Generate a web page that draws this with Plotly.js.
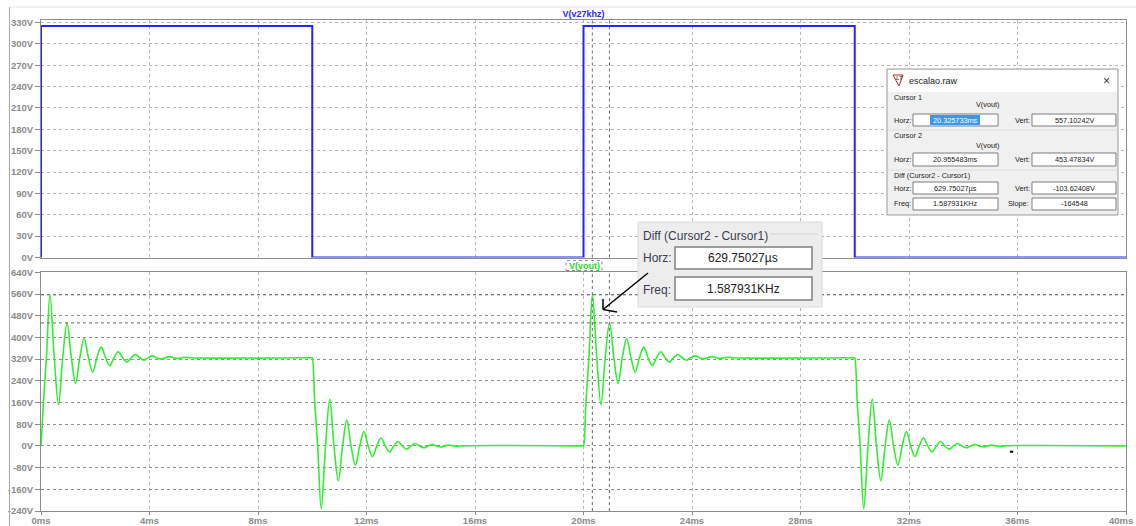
<!DOCTYPE html>
<html>
<head>
<meta charset="utf-8">
<script src="https://cdn.plot.ly/plotly-3.0.1.min.js"></script>
<style>
  html, body { margin: 0; padding: 0; background: #ffffff; }
  #chart { width: 1136px; height: 526px; }
</style>
</head>
<body>
<div id="chart"></div>
<script>
// ---------------- DATA ----------------
// Top pane: V(v27khz) square wave (ms, V)
const sqTimes = [0, 0, 10, 10, 20, 20, 30, 30, 40];
const sqVolts = [0, 325, 325, 0, 0, 325, 325, 0, 0];

// Bottom pane: V(vout) step responses at each edge
const edgeTimes = [0, 10, 20, 30];          // ms
const edgeFrom  = [0, 325, 0, 325];         // V before edge
const edgeTo    = [325, 0, 325, 0];         // V settled after edge
// ringing read from the first rising edge: time after edge (ms), deviation from settled value (V)
const ringOffset = [0, 0.09, 0.2, 0.33, 0.49, 0.645, 0.80, 0.96, 1.12, 1.275, 1.43, 1.59, 1.75, 1.905, 2.06, 2.22, 2.38, 2.535, 2.69, 2.85, 3.01, 3.165, 3.32, 3.48, 3.64, 3.795, 3.95, 4.11, 4.27, 4.425, 4.58, 4.74, 4.9, 5.05, 5.2, 5.37, 5.5];
const ringDev    = [-325, -165, 0, 232, 0, -173, 0, 128, 0, -95, 0, 71, 0, -53, 0, 39, 0, -29, 0, 22, 0, -16, 0, 12, 0, -9, 0, 7, 0, -5, 0, 4, 0, -3, 0, 2, 0];

// Cursors
const cursorTimes = [20.325733, 20.955483];  // ms
const cursorVolts = [557.10242, 453.47834];  // V

// Axis ticks
const topTicks = [0, 30, 60, 90, 120, 150, 180, 210, 240, 270, 300, 330];
const botTicks = [-240, -160, -80, 0, 80, 160, 240, 320, 400, 480, 560, 640];
const xTicks   = [0, 4, 8, 12, 16, 20, 24, 28, 32, 36, 40];

// Cursor readout texts
const dlgTitle = 'escalao.raw';
const c1Horz = '20.325733ms', c1Vert = '557.10242V';
const c2Horz = '20.955483ms', c2Vert = '453.47834V';
const dHorz = '629.75027µs', dVert = '-103.62408V', dFreq = '1.587931KHz', dSlope = '-164548';

// ---------------- BUILD ----------------
const voutT = [], voutV = [];
for (let i = 0; i < edgeTimes.length; i++) {
  const t0 = edgeTimes[i];
  const dir = edgeTo[i] > edgeFrom[i] ? 1 : -1;
  if (i > 0) { voutT.push(t0 - 0.02); voutV.push(edgeFrom[i]); }
  for (let k = 0; k < ringOffset.length; k++) {
    voutT.push(t0 + ringOffset[k]);
    voutV.push(edgeTo[i] + dir * ringDev[k]);
  }
}
voutT.push(40); voutV.push(edgeTo[edgeTo.length - 1]);

// pixel -> paper helpers (plot area 41..1126 x 20..511)
const L = 41, R = 1126, T = 20, B = 511;
const px = x => (x - L) / (R - L);
const py = y => (B - y) / (B - T);

const shapes = [];
const annotations = [];
function rect(x0, y0, x1, y1, fill, line, lw, dash) {
  shapes.push({type: 'rect', xref: 'paper', yref: 'paper', x0: px(x0), x1: px(x1), y0: py(y1), y1: py(y0),
    fillcolor: fill, line: {color: line || 'rgba(0,0,0,0)', width: lw === undefined ? 1 : lw, dash: dash || 'solid'}, layer: 'above'});
}
function seg(x0, y0, x1, y1, color, w, dash) {
  shapes.push({type: 'line', xref: 'paper', yref: 'paper', x0: px(x0), x1: px(x1), y0: py(y0), y1: py(y1),
    line: {color: color, width: w, dash: dash || 'solid'}, layer: 'above'});
}
function txt(x, y, text, size, anchor, color, extra) {
  annotations.push(Object.assign({xref: 'paper', yref: 'paper', x: px(x), y: py(y), text: text, showarrow: false,
    xanchor: anchor || 'left', yanchor: 'middle',
    font: {family: 'Liberation Sans, Arial, sans-serif', size: size, color: color || '#1a1a1a'}}, extra || {}));
}

const tickFont = {family: 'Liberation Sans, Arial, sans-serif', size: 9.5, color: '#8a8a8a', weight: 'bold'};
const frame = '#8c8c8c';

// cursor lines
cursorTimes.forEach(t => {
  shapes.push({type: 'line', xref: 'x2', yref: 'y domain', x0: t, x1: t, y0: 0, y1: 1, line: {color: '#6a6a6a', width: 1, dash: 'dot'}});
  shapes.push({type: 'line', xref: 'x', yref: 'y2 domain', x0: t, x1: t, y0: 0, y1: 1, line: {color: '#6a6a6a', width: 1, dash: 'dot'}});
});
cursorVolts.forEach(v => {
  shapes.push({type: 'line', xref: 'x domain', yref: 'y2', x0: 0, x1: 1, y0: v, y1: v, line: {color: '#6a6a6a', width: 1, dash: 'dot'}});
});
// small cursor mark
shapes.push({type: 'line', xref: 'x', yref: 'y2', x0: 35.72, x1: 35.84, y0: -22, y1: -22, line: {color: '#000', width: 2}});

// window border
seg(9.5, 7, 9.5, 526, '#a8a8a8', 1);
seg(9.5, 7, 1136, 7, '#e4e4e4', 1);

// last x tick label kept inside the page (reference shows it at the right edge)
annotations.push({xref: 'paper', yref: 'paper', x: 1 + 9 / (R - L), y: py(520), xanchor: 'right', yanchor: 'middle',
  text: xTicks[xTicks.length - 1] + 'ms', showarrow: false, font: tickFont});

// V(vout) label box
rect(566, 260.5, 602, 270.5, '#ffffff', '#8a8a8a', 1, 'dot');
txt(584, 265.5, '<b>V(vout)</b>', 9, 'center', '#22dd22');

// ---- Cursor dialog ----
rect(887, 69, 1118, 215, '#f0f0f0', '#9a9a9a', 1);
rect(888, 70, 1117, 92, '#ffffff', null, 0);
seg(888, 130, 1117, 130, '#dcdcdc', 1);
seg(888, 170, 1117, 170, '#dcdcdc', 1);
// icon
shapes.push({type: 'path', xref: 'paper', yref: 'paper', layer: 'above',
  path: `M ${px(893)} ${py(75)} L ${px(903)} ${py(75)} L ${px(899)} ${py(86)} Z`, fillcolor: 'rgba(0,0,0,0)', line: {color: '#b03030', width: 1}});
txt(894, 78, '<i>LT</i>', 6, 'left', '#222');
txt(907, 80.5, dlgTitle, 9, 'left', '#222');
txt(1106, 80.5, '×', 12, 'center', '#333');
// boxes
const boxRows = [[114, 126], [153, 166], [182, 194], [198, 210]];
boxRows.forEach(r => { rect(913, r[0], 998, r[1], '#ffffff', '#7d7d7d', 1); rect(1032, r[0], 1116, r[1], '#ffffff', '#7d7d7d', 1); });
rect(930, 115, 980, 125, '#3399ff', null, 0);
const fs = 7.3;
txt(892, 97, 'Cursor 1', fs);
txt(988, 104, 'V(vout)', fs, 'center');
txt(892, 120, 'Horz:', fs); txt(1013, 120, 'Vert:', fs);
txt(955, 120, c1Horz, fs, 'center', '#ffffff'); txt(1074, 120, c1Vert, fs, 'center');
txt(892, 135, 'Cursor 2', fs);
txt(988, 145, 'V(vout)', fs, 'center');
txt(892, 159.5, 'Horz:', fs); txt(1013, 159.5, 'Vert:', fs);
txt(955, 159.5, c2Horz, fs, 'center'); txt(1074, 159.5, c2Vert, fs, 'center');
txt(892, 175, 'Diff (Cursor2 - Cursor1)', fs);
txt(892, 188, 'Horz:', fs); txt(1013, 188, 'Vert:', fs);
txt(955, 188, dHorz, fs, 'center'); txt(1074, 188, dVert, fs, 'center');
txt(892, 204, 'Freq:', fs); txt(1006, 204, 'Slope:', fs);
txt(955, 204, dFreq, fs, 'center'); txt(1074, 204, dSlope, fs, 'center');

// ---- Zoomed callout ----
rect(638, 222, 822, 307, '#ededed', '#dadada', 1);
txt(641, 236, 'Diff (Cursor2 - Cursor1)', 12, 'left', '#3b3b4f');
seg(770, 234, 818, 234, '#d0d0d0', 1);
txt(641, 258, 'Horz:', 12, 'left', '#3b3b4f');
txt(641, 289.5, 'Freq:', 12, 'left', '#3b3b4f');
rect(675, 247, 812, 269, '#ffffff', '#808080', 1.5);
rect(675, 277, 812, 300, '#ffffff', '#808080', 1.5);
txt(743, 258, dHorz, 12, 'center', '#222');
txt(743, 289, dFreq, 12, 'center', '#222');
// arrow
seg(648, 273, 603, 309.5, '#000000', 1.5);
seg(603, 309.5, 603, 299, '#000000', 1.5);
seg(603, 309.5, 617, 312, '#000000', 1.5);

const traces = [
  {x: sqTimes, y: sqVolts, xaxis: 'x2', yaxis: 'y', type: 'scatter', mode: 'lines',
   line: {color: '#2424ff', width: 2}, hoverinfo: 'skip'},
  {x: voutT, y: voutV, xaxis: 'x', yaxis: 'y2', type: 'scatter', mode: 'lines',
   line: {color: '#2ff02f', width: 1.6, shape: 'spline', smoothing: 1}, hoverinfo: 'skip'}
];

const layout = {
  width: 1136, height: 526,
  margin: {l: L, r: 1136 - R, t: T, b: 526 - B},
  paper_bgcolor: '#ffffff', plot_bgcolor: '#ffffff',
  showlegend: false,
  title: {text: '<b>V(v27khz)</b>', xref: 'paper', x: px(583.5), xanchor: 'center', yref: 'container', y: (526 - 13.5) / 526, yanchor: 'middle',
          font: {family: 'Liberation Sans, Arial, sans-serif', size: 9, color: '#2a2aff'}},
  xaxis: {domain: [0, 1], anchor: 'y2', range: [0, 40], tickvals: xTicks,
          ticktext: xTicks.map((v, i) => i === xTicks.length - 1 ? '' : v + 'ms'),
          ticks: 'outside', ticklen: 3, tickcolor: frame, tickfont: tickFont, ticklabelstandoff: -2, ticklabeloverflow: 'allow',
          showgrid: true, gridcolor: '#b8b8b8', griddash: 'dot', gridwidth: 1,
          showline: true, linecolor: frame, linewidth: 1, mirror: true, zeroline: false},
  xaxis2: {domain: [0, 1], anchor: 'y', matches: 'x', range: [0, 40], tickvals: xTicks, showticklabels: false, ticks: '',
           showgrid: true, gridcolor: '#b8b8b8', griddash: 'dot', gridwidth: 1,
           showline: true, linecolor: frame, linewidth: 1, mirror: true, zeroline: false},
  yaxis: {domain: [py(257.5), 1], anchor: 'x2', range: [0, 333.5], tickvals: topTicks, ticktext: topTicks.map(v => v + 'V'),
          ticks: 'outside', ticklen: 5, tickcolor: frame, tickfont: tickFont,
          showgrid: true, gridcolor: '#b4b4b4', griddash: 'dot', gridwidth: 1,
          showline: true, linecolor: frame, linewidth: 1, mirror: true, zeroline: false},
  yaxis2: {domain: [0, py(271.5)], anchor: 'x', range: [-240, 643], tickvals: botTicks, ticktext: botTicks.map(v => v + 'V'),
           ticks: 'outside', ticklen: 5, tickcolor: frame, tickfont: tickFont,
           showgrid: true, gridcolor: '#8e8e8e', griddash: 'dot', gridwidth: 1,
           showline: true, linecolor: frame, linewidth: 1, mirror: true, zeroline: false},
  shapes: shapes,
  annotations: annotations
};

Plotly.newPlot('chart', traces, layout, {displayModeBar: false, staticPlot: true});
</script>
</body>
</html>
